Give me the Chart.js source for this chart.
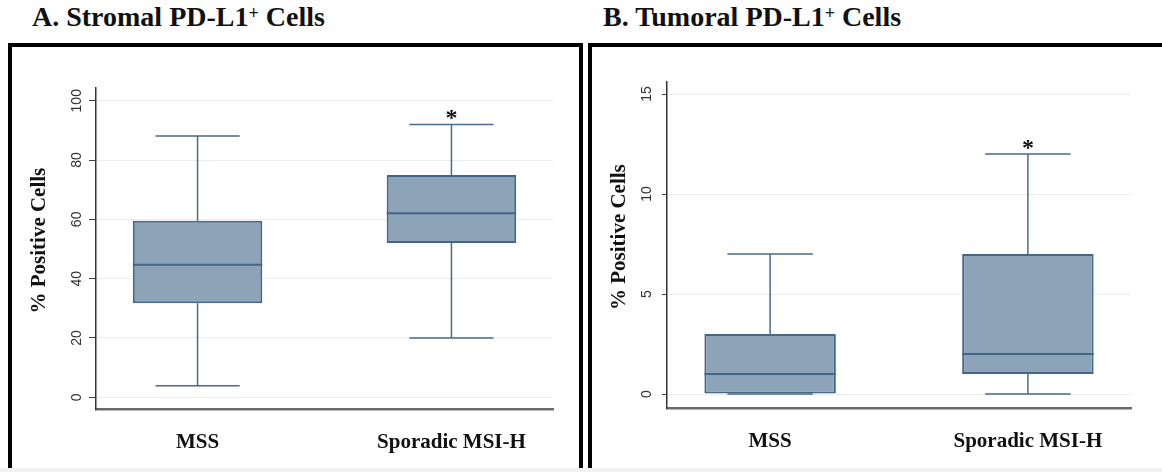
<!DOCTYPE html>
<html>
<head>
<meta charset="utf-8">
<script src="https://cdn.jsdelivr.net/npm/chart.js@4.4.1/dist/chart.umd.min.js"></script>
<style>
  body { margin:0; width:1162px; height:472px; overflow:hidden; background:#fff; position:relative; font-family:'Liberation Serif', serif; }
  .title { position:absolute; top:3px; font-weight:bold; font-size:28px; line-height:28px; color:#111; white-space:nowrap; }
  .title sup { font-size:18px; position:relative; top:-7px; vertical-align:baseline; line-height:0; }
  .frame { position:absolute; top:43px; height:440px; border:4px solid #000; box-sizing:border-box; }
  canvas { position:absolute; }
  #strip { position:absolute; left:0; top:468px; width:1162px; height:4px; background:#f1f1f1; }
</style>
</head>
<body>
<div class="title" style="left:32px">A. Stromal PD-L1<sup>+</sup> Cells</div>
<div class="title" style="left:603px">B. Tumoral PD-L1<sup>+</sup> Cells</div>
<div class="frame" style="left:8px; width:575px"></div>
<div class="frame" style="left:588px; width:600px"></div>
<canvas id="stromalChart" width="567" height="425" style="left:12px; top:47px"></canvas>
<canvas id="tumoralChart" width="570" height="425" style="left:592px; top:47px"></canvas>
<div id="strip"></div>

<script>
// groups on the x axis
const categories = ['MSS', 'Sporadic MSI-H'];
// significance mark above each group
const sigMarks = ['', '*'];

// A. stromal: min, q1, median, q3, max
const stromalMin    = [3.9, 20];
const stromalQ1     = [31.7, 52];
const stromalMedian = [44.7, 62.1];
const stromalQ3     = [59.5, 75];
const stromalMax    = [88.1, 92];
const stromalTicks  = [0, 20, 40, 60, 80, 100];

// B. tumoral
const tumoralMin    = [0, 0];
const tumoralQ1     = [0, 1];
const tumoralMedian = [1, 2];
const tumoralQ3     = [3, 7];
const tumoralMax    = [7, 12];
const tumoralTicks  = [0, 5, 10, 15];

const boxFill = '#8ca3b8';
const boxLine = '#46658a';

function showChart(canvasId, stats, yTicks, layout)
{
    // whiskers, caps, median and star drawn from the scales
    const boxLines = {
        id: 'boxLines',
        afterDatasetsDraw(chart) {
            const ctx = chart.ctx;
            const xs = chart.scales.x, ys = chart.scales.y;
            const py = v => ys.getPixelForValue(v);
            const meta = chart.getDatasetMeta(0);
            ctx.save();
            meta.data.forEach((bar, i) => {
                const cx = xs.getPixelForValue(i + 1);
                const half = bar.width / 2;
                const cap = half * 0.65;

                ctx.strokeStyle = '#4a6a8c';
                ctx.lineWidth = 1.5;
                ctx.beginPath();
                ctx.moveTo(cx, py(stats.q3[i]));  ctx.lineTo(cx, py(stats.max[i]));
                ctx.moveTo(cx, py(stats.q1[i]));  ctx.lineTo(cx, py(stats.min[i]));
                ctx.moveTo(cx - cap, py(stats.max[i])); ctx.lineTo(cx + cap, py(stats.max[i]));
                ctx.moveTo(cx - cap, py(stats.min[i])); ctx.lineTo(cx + cap, py(stats.min[i]));
                ctx.stroke();

                ctx.strokeStyle = boxLine;
                ctx.lineWidth = 2;
                ctx.beginPath();
                ctx.moveTo(cx - half, py(stats.median[i]));
                ctx.lineTo(cx + half, py(stats.median[i]));
                ctx.stroke();

                if (sigMarks[i]) {
                    ctx.fillStyle = '#111';
                    ctx.font = 'bold 24px "Liberation Serif"';
                    ctx.textAlign = 'center';
                    ctx.textBaseline = 'alphabetic';
                    ctx.fillText(sigMarks[i], cx, py(stats.max[i]) + 1);
                }
            });
            ctx.restore();
        }
    };

    const config = {
        type: 'bar',
        data: {
            datasets: [{
                data: categories.map((c, i) => ({ x: i + 1, y: [stats.q1[i], stats.q3[i]] })),
                backgroundColor: boxFill,
                borderColor: boxLine,
                borderWidth: 2,
                borderSkipped: false,
                barPercentage: 0.51,
                categoryPercentage: 1
            }]
        },
        options: {
            responsive: false,
            animation: false,
            layout: { padding: { top: layout.top, right: layout.right, left: 0, bottom: 0 } },
            plugins: {
                legend: { display: false },
                tooltip: { enabled: false }
            },
            scales: {
                x: {
                    type: 'linear',
                    offset: false,
                    min: 0.6,
                    max: 2.4,
                    afterBuildTicks: s => { s.ticks = categories.map((c, i) => ({ value: i + 1 })); },
                    afterFit: s => { s.height = layout.xHeight; },
                    grid: { color: 'rgba(0,0,0,0)', drawTicks: false, offset: false },
                    border: { color: '#6b6b6b', width: 2.5 },
                    ticks: {
                        callback: v => categories[v - 1],
                        padding: 21,
                        maxRotation: 0,
                        autoSkip: false,
                        color: '#111',
                        font: { family: 'Liberation Serif', size: 21, weight: 'bold' }
                    }
                },
                y: {
                    min: layout.yMin,
                    max: layout.yMax,
                    afterBuildTicks: s => { s.ticks = yTicks.map(v => ({ value: v })); },
                    afterFit: s => { s.width = layout.yWidth; },
                    grid: { color: '#e8eeee', tickColor: '#444', tickLength: layout.tickLen, lineWidth: 1 },
                    border: { color: '#333', width: 1.5 },
                    ticks: {
                        minRotation: 90,
                        maxRotation: 90,
                        crossAlign: 'center',
                        padding: layout.tickPad,
                        color: '#333',
                        font: { family: 'Liberation Sans', size: 14 }
                    },
                    title: {
                        display: true,
                        // leading spaces nudge the rotated title upward
                        text: '   % Positive Cells',
                        color: '#111',
                        font: { family: 'Liberation Serif', size: 21, weight: 'bold' },
                        padding: { top: 15, bottom: 0 }
                    }
                }
            }
        },
        plugins: [boxLines]
    };

    const ctx = document.getElementById(canvasId).getContext('2d');
    return new Chart(ctx, config);
}

showChart('stromalChart',
    { min: stromalMin, q1: stromalQ1, median: stromalMedian, q3: stromalQ3, max: stromalMax },
    stromalTicks,
    { top: 41, right: 26, xHeight: 63, yWidth: 84, yMin: -3.95, yMax: 104.3, tickLen: 7, tickPad: 0 });

showChart('tumoralChart',
    { min: tumoralMin, q1: tumoralQ1, median: tumoralMedian, q3: tumoralQ3, max: tumoralMax },
    tumoralTicks,
    { top: 35, right: 31, xHeight: 64, yWidth: 75, yMin: -0.7, yMax: 15.6, tickLen: 5, tickPad: 7 });
</script>
</body>
</html>
